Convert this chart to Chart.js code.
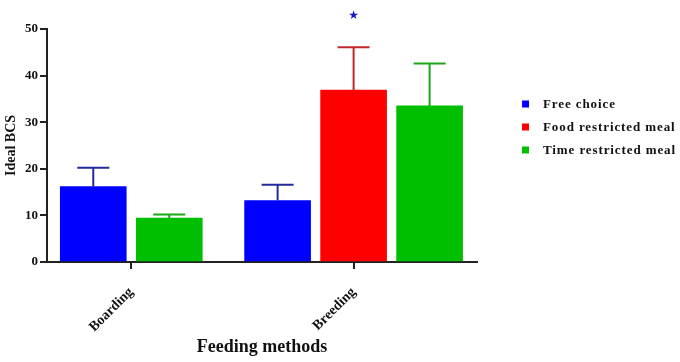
<!DOCTYPE html>
<html>
<head>
<meta charset="utf-8">
<script src="https://cdn.jsdelivr.net/npm/chart.js@4.4.1/dist/chart.umd.min.js"></script>
<style>
  html, body { margin: 0; padding: 0; background: #fff; }
  #wrap { position: relative; width: 680px; height: 362px; }
</style>
</head>
<body>
<div id="wrap"><canvas id="c"></canvas></div>
<script>
// ---- data ----
const categories = ['Boarding', 'Breeding'];
const seriesNames = ['Free choice', 'Food restricted meal', 'Time restricted meal'];
const freeChoice = [16.2, 13.2];
const freeChoiceErr = [20.2, 16.6];
const foodRestricted = [null, 36.9];
const foodRestrictedErr = [null, 46.1];
const timeRestricted = [9.4, 33.5];
const timeRestrictedErr = [10.2, 42.6];
const yTicks = [0, 10, 20, 30, 40, 50];
const significance = [{ category: 1, series: 1, value: 52.9, mark: '★' }];

const SERIF = '"Liberation Serif", "Times New Roman", serif';
const fills = ['#0000ff', '#ff0000', '#00bf00'];
const errColors = ['#232a9a', '#c1272d', '#18a818'];
const values = [freeChoice, foodRestricted, timeRestricted];
const errors = [freeChoiceErr, foodRestrictedErr, timeRestrictedErr];

const datasets = seriesNames.map((name, i) => ({
  label: name,
  data: categories.map((c, j) => ({ x: j, y: values[i][j] })),
  backgroundColor: fills[i],
  borderWidth: 0,
  barThickness: 76,
  maxBarThickness: 66,
  skipNull: true,
  errUpper: errors[i],
  errColor: errColors[i]
}));

const errorBars = {
  id: 'errorBars',
  afterDatasetsDraw(chart) {
    const ctx = chart.ctx;
    const ys = chart.scales.y;
    chart.data.datasets.forEach((ds, i) => {
      const meta = chart.getDatasetMeta(i);
      meta.data.forEach((el, j) => {
        const v = ds.errUpper[j];
        if (v == null || ds.data[j].y == null) return;
        const yTop = ys.getPixelForValue(v);
        ctx.save();
        ctx.strokeStyle = ds.errColor;
        ctx.lineWidth = 2;
        ctx.beginPath();
        ctx.moveTo(el.x, el.y);
        ctx.lineTo(el.x, yTop);
        ctx.moveTo(el.x - 16, yTop);
        ctx.lineTo(el.x + 16, yTop);
        ctx.stroke();
        ctx.restore();
      });
    });
    // significance marks
    significance.forEach(s => {
      const el = chart.getDatasetMeta(s.series).data[s.category];
      ctx.save();
      ctx.fillStyle = '#1414c8';
      ctx.font = '12px "DejaVu Sans", sans-serif';
      ctx.textAlign = 'center';
      ctx.textBaseline = 'middle';
      ctx.fillText(s.mark, el.x, ys.getPixelForValue(s.value));
      ctx.restore();
    });
  }
};

const sideLegend = {
  id: 'sideLegend',
  afterDraw(chart) {
    const ctx = chart.ctx;
    ctx.save();
    ctx.font = 'bold 13px ' + SERIF;
    ctx.textBaseline = 'middle';
    ctx.textAlign = 'left';
    try { ctx.letterSpacing = '0.9px'; } catch (e) {}
    chart.data.datasets.forEach((ds, i) => {
      const y = 104 + i * 23;
      ctx.fillStyle = ds.backgroundColor;
      ctx.fillRect(522, y - 3.5, 7, 7);
      ctx.fillStyle = '#111';
      ctx.fillText(ds.label, 543, y + 0.5);
    });
    ctx.restore();
  }
};

new Chart(document.getElementById('c'), {
  type: 'bar',
  data: { datasets },
  plugins: [errorBars, sideLegend],
  options: {
    responsive: true,
    maintainAspectRatio: false,
    animation: false,
    layout: { padding: { top: 29, right: 203, bottom: 0, left: 0 } },
    plugins: { legend: { display: false }, tooltip: { enabled: false } },
    scales: {
      x: {
        type: 'linear',
        min: -0.379,
        max: 1.555,
        offset: false,
        afterBuildTicks: s => { s.ticks = categories.map((c, i) => ({ value: i })); },
        afterFit: s => { s.height = 100; },
        grid: { offset: false, drawOnChartArea: false, drawTicks: true, tickLength: 7, color: '#222', lineWidth: 2 },
        border: { display: true, color: '#222', width: 2 },
        ticks: {
          autoSkip: false,
          minRotation: 45,
          maxRotation: 45,
          padding: 15,
          color: '#111',
          font: { family: SERIF, size: 14, weight: 'bold' },
          callback: v => categories[v]
        },
        title: {
          display: true,
          text: 'Feeding methods',
          color: '#111',
          font: { family: SERIF, size: 18, weight: 'bold' },
          padding: { top: 0, bottom: 4 }
        }
      },
      y: {
        min: 0,
        max: 50,
        afterBuildTicks: s => { s.ticks = yTicks.map(v => ({ value: v })); },
        afterFit: s => { s.width = 47; },
        grid: { drawOnChartArea: false, drawTicks: true, tickLength: 7, color: '#222', lineWidth: 2 },
        border: { display: true, color: '#222', width: 2 },
        ticks: {
          padding: 2,
          color: '#111',
          font: { family: SERIF, size: 13, weight: 'bold' }
        },
        title: {
          display: true,
          text: 'Ideal BCS',
          color: '#111',
          font: { family: SERIF, size: 14, weight: 'bold' },
          padding: { top: 3, bottom: 0 }
        }
      }
    }
  }
});
</script>
</body>
</html>
